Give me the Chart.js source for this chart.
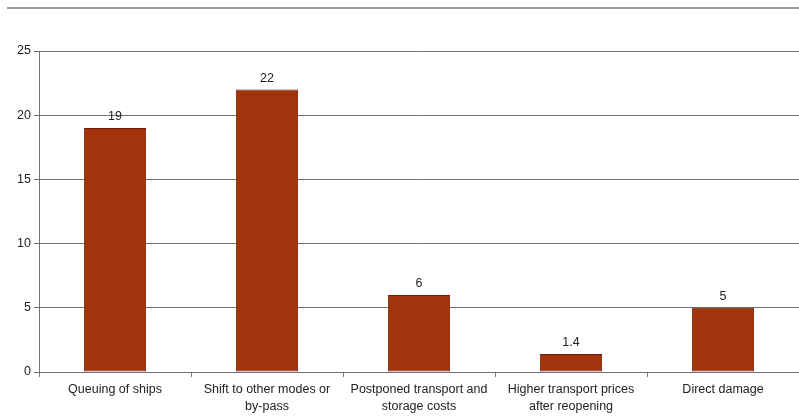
<!DOCTYPE html>
<html>
<head>
<meta charset="utf-8">
<script src="https://cdn.jsdelivr.net/npm/chart.js@4/dist/chart.umd.min.js"></script>
<style>
  html, body { margin: 0; padding: 0; background: #fff; }
  #wrap { position: relative; width: 799px; height: 416px; }
  #rule { position: absolute; left: 7px; right: 0; top: 7px; border-top: 2px solid #9a9a9a; }
  canvas { display: block; }
</style>
</head>
<body>
<div id="wrap">
  <div id="rule"></div>
  <canvas id="c" width="799" height="416"></canvas>
</div>
<script>
const categories = [
  "Queuing of ships",
  ["Shift to other modes or", "by-pass"],
  ["Postponed transport and", "storage costs"],
  ["Higher transport prices", "after reopening"],
  "Direct damage"
];
const costValues = [19, 22, 6, 1.4, 5];
const yTicks = [0, 5, 10, 15, 20, 25];

const font = { family: "'Liberation Sans', Arial, sans-serif", size: 12.5 };

// Writes each bar's value just above it
const valueLabels = {
  id: 'valueLabels',
  afterDatasetsDraw(chart) {
    const ctx = chart.ctx;
    const meta = chart.getDatasetMeta(0);
    ctx.save();
    ctx.font = `${font.size}px ${font.family}`;
    ctx.fillStyle = '#222';
    ctx.textAlign = 'center';
    ctx.textBaseline = 'bottom';
    meta.data.forEach((bar, i) => {
      ctx.fillText(String(costValues[i]), bar.x, bar.y - 5);
    });
    ctx.restore();
  }
};

new Chart(document.getElementById('c'), {
  type: 'bar',
  data: {
    labels: categories,
    datasets: [{
      data: costValues,
      backgroundColor: '#a3330d',
      borderColor: '#6f1f08',
      borderWidth: 1,
      borderSkipped: false,
      categoryPercentage: 1,
      barPercentage: 0.41
    }]
  },
  options: {
    responsive: false,
    animation: false,
    layout: { padding: { top: 51, right: 0, left: 0, bottom: 0 } },
    plugins: { legend: { display: false }, tooltip: { enabled: false } },
    scales: {
      x: {
        offset: true,
        grid: {
          offset: true,
          drawOnChartArea: false,
          tickLength: 5,
          color: '#808080'
        },
        border: { color: '#707070', width: 1 },
        ticks: {
          color: '#222',
          font: { ...font, lineHeight: 1.35 },
          padding: 4,
          maxRotation: 0,
          autoSkip: false
        },
        afterFit(scale) { scale.height = 44; }
      },
      y: {
        min: 0,
        max: 25,
        afterBuildTicks(scale) { scale.ticks = yTicks.map(v => ({ value: v })); },
        grid: { color: '#707070', tickLength: 5 },
        border: { color: '#707070', width: 1 },
        ticks: { color: '#222', font, padding: 3 },
        afterFit(scale) { scale.width = 39; }
      }
    }
  },
  plugins: [valueLabels]
});
</script>
</body>
</html>
